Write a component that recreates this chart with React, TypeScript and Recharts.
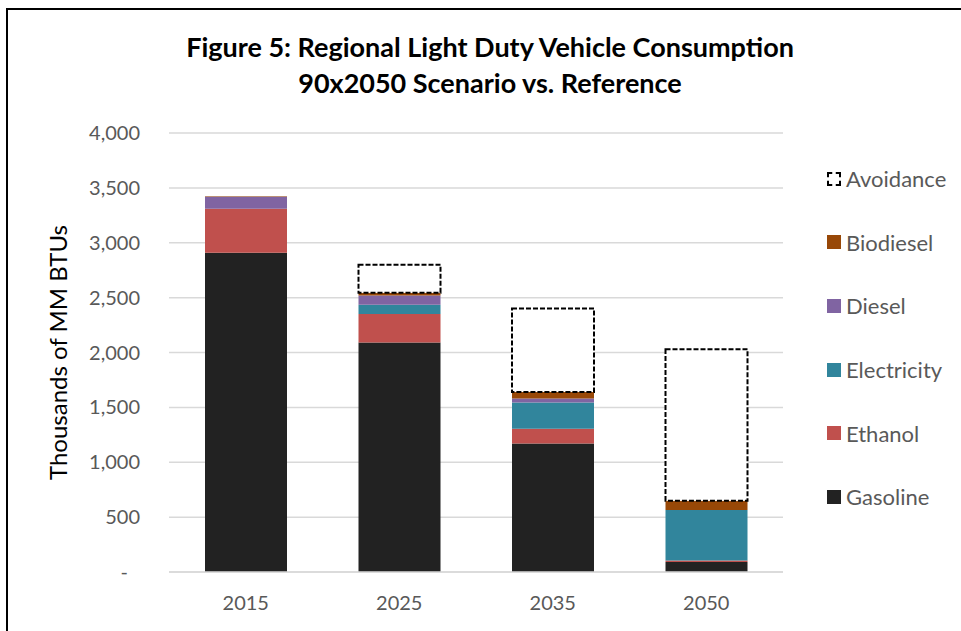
import { BarChart, Bar, XAxis, YAxis, CartesianGrid } from "recharts";

const years = ["2015", "2025", "2035", "2050"];
const gasoline = [2910, 2090, 1170, 90];
const ethanol = [400, 260, 135, 15];
const electricity = [0, 85, 240, 460];
const diesel = [110, 85, 35, 0];
const biodiesel = [4, 25, 60, 85];
const avoidance = [0, 255, 760, 1380];
const yTicks = [0, 500, 1000, 1500, 2000, 2500, 3000, 3500, 4000];

const series = [
  { key: "Gasoline", values: gasoline, color: "#222222" },
  { key: "Ethanol", values: ethanol, color: "#C0504D" },
  { key: "Electricity", values: electricity, color: "#31859C" },
  { key: "Diesel", values: diesel, color: "#8064A2" },
  { key: "Biodiesel", values: biodiesel, color: "#984807" },
];

const data = years.map((year, i) => {
  const row: Record<string, string | number> = { year };
  series.forEach((s) => {
    row[s.key] = s.values[i];
  });
  row.Avoidance = avoidance[i];
  return row;
});

const font = "Lato, 'Open Sans', sans-serif";

const YTick = (props: any) => {
  const { x, y, payload } = props;
  const v = payload.value as number;
  return (
    <text
      x={v === 0 ? x - 12 : x}
      y={y}
      dy={7}
      textAnchor="end"
      fill="#595959"
      fontSize={20}
      fontFamily={font}
    >
      {v === 0 ? "-" : v.toLocaleString("en-US")}
    </text>
  );
};

const legendItems = ["Avoidance", ...series.map((s) => s.key).reverse()];

const App = () => {
  return (
    <div style={{ position: "absolute", left: 0, top: 0, width: 961, height: 631, background: "#fff", overflow: "hidden", fontFamily: font }}>
      <div style={{ position: "absolute", left: 6, top: 8, width: 1000, height: 700, border: "2px solid #000" }} />
      <div
        style={{
          position: "absolute",
          left: 0,
          width: 980,
          top: 29,
          textAlign: "center",
          fontWeight: 700,
          fontSize: 27,
          lineHeight: "36px",
          color: "#000",
        }}
      >
        Figure 5: Regional Light Duty Vehicle Consumption
        <br />
        90x2050 Scenario vs. Reference
      </div>
      <div style={{ position: "absolute", left: 0, top: 0 }}>
        <BarChart
          width={961}
          height={631}
          data={data}
          margin={{ top: 133, right: 178, bottom: 19, left: 109 }}
          barSize={82}
        >
          <CartesianGrid vertical={false} stroke="#D9D9D9" strokeWidth={1.5} />
          <XAxis
            dataKey="year"
            height={40}
            tickLine={false}
            axisLine={{ stroke: "#D9D9D9", strokeWidth: 1.5 }}
            tick={{ fill: "#595959", fontSize: 20, fontFamily: font }}
            tickMargin={18}
          />
          <YAxis
            width={60}
            domain={[0, 4000]}
            ticks={yTicks}
            tickLine={false}
            axisLine={false}
            tickSize={0}
            tickMargin={29}
            tick={<YTick />}
            interval={0}
            label={{
              value: "Thousands of MM BTUs",
              angle: -90,
              position: "center",
              dx: -109 + 60 - 32,
              fill: "#000",
              fontSize: 24,
              fontFamily: font,
            }}
          />
          {series.map((s) => (
            <Bar key={s.key} dataKey={s.key} stackId="a" fill={s.color} isAnimationActive={false} />
          ))}
          <Bar
            dataKey="Avoidance"
            stackId="a"
            fill="#fff"
            stroke="#000"
            strokeWidth={2}
            strokeDasharray="5 2"
            isAnimationActive={false}
          />
        </BarChart>
      </div>
      <div style={{ position: "absolute", left: 827, top: 147 }}>
        {legendItems.map((name) => {
          const s = series.find((x) => x.key === name);
          return (
            <div key={name} style={{ display: "flex", alignItems: "center", height: 63.6 }}>
              <div
                style={{
                  width: s ? 14 : 10,
                  height: s ? 14 : 10,
                  background: s ? s.color : "#fff",
                  border: s ? "none" : "2px dashed #000",
                  marginRight: 5,
                }}
              />
              <span style={{ fontSize: 22, color: "#595959" }}>{name}</span>
            </div>
          );
        })}
      </div>
    </div>
  );
};

export default App;
